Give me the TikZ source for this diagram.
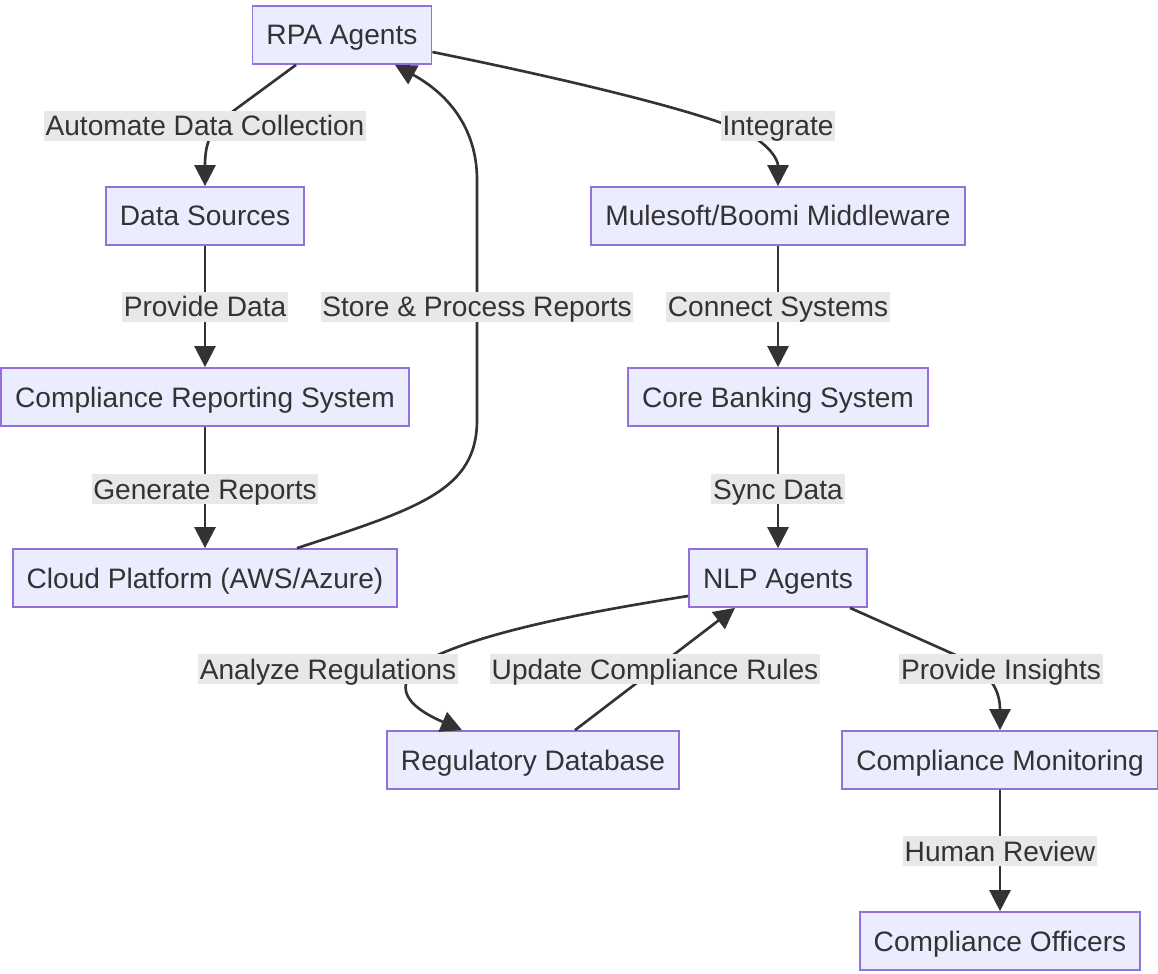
\documentclass[tikz,border=0pt]{standalone}
\usepackage{fontspec}
\setmainfont{Liberation Sans}
\usepackage{tikz}
\usetikzlibrary{arrows.meta,calc}
\definecolor{boxfill}{HTML}{ECECFF}
\definecolor{boxline}{HTML}{9370DB}
\definecolor{edgegray}{HTML}{333333}
\definecolor{lblbg}{HTML}{E8E8E8}

\begin{document}
\begin{tikzpicture}[x=0.02cm,y=-0.02cm,
    font=\fontsize{16}{19}\selectfont,
    box/.style={draw=boxline,fill=boxfill,line width=1pt,minimum height=1.16cm,inner xsep=0.28cm,
      text height=0.4cm,text depth=0pt,text=edgegray},
    elabel/.style={fill=lblbg,inner xsep=1pt,inner ysep=0pt,minimum height=0.6cm,
      text height=0.4cm,text depth=0pt,text=edgegray},
    arr/.style={draw=edgegray,line width=1.5pt,-{Triangle[length=0.42cm,width=0.42cm]}}]
    \useasboundingbox (0,0) rectangle (1158,973); % keeps the margins

    % left column
    \node[box] (rpa)   at (342,35)  {RPA Agents};
    \node[box] (ds)    at (205,216) {Data Sources};
    \node[box] (crs)   at (205,397) {Compliance Reporting System};
    \node[box] (cloud) at (205,578) {Cloud Platform (AWS/Azure)};
    % right column
    \node[box] (mule)  at (778,216) {Mulesoft/Boomi Middleware};
    \node[box] (core)  at (778,397) {Core Banking System};
    \node[box] (nlp)   at (778,578) {NLP Agents};
    \node[box] (regdb) at (533,760) {Regulatory Database};
    \node[box] (mon)   at (1000,760) {Compliance Monitoring};
    \node[box] (off)   at (1000,941) {Compliance Officers};

    % straight links
    \foreach \a/\b in {ds/crs,crs/cloud,mule/core,core/nlp,mon/off}{%
      \draw[arr] (\a) -- (\b);
    }
    % curved links
    \draw[arr] ([xshift=-0.92cm]rpa.south) -- (236,109)
        .. controls (212,127) and (205,140) .. (ds.north);
    \draw[arr] ([yshift=-0.34cm]rpa.east) .. controls (580,82) and (700,112) .. (745,132)
        .. controls (770,145) and (778,160) .. (mule.north);
    \draw[arr] ([xshift=1.84cm]cloud.north) .. controls (420,508) and (477,490) .. (477,420)
        -- (477,180) .. controls (477,130) and (450,95) .. ([xshift=1.06cm]rpa.south);
    \draw[arr] ([yshift=-0.36cm]nlp.west) .. controls (600,610) and (500,628) .. (440,654)
        .. controls (395,675) and (392,700) .. ([xshift=-1.42cm]regdb.north);
    \draw[arr] ([xshift=0.84cm]regdb.north) -- ([xshift=-0.86cm]nlp.south);
    \draw[arr] ([xshift=1.44cm]nlp.south) -- (960,657)
        .. controls (990,672) and (1000,690) .. (mon.north);

    % edge labels
    \node[elabel] (lAuto)  at (205,126)  {Automate Data Collection};
    \node[elabel] (lInt)   at (778,126)  {Integrate};
    \node[elabel] (lProv)  at (205,307)  {Provide Data};
    \node[elabel] (lStore) at (477,307)  {Store \& Process Reports};
    \node[elabel] (lConn)  at (778,307)  {Connect Systems};
    \node[elabel] (lGen)   at (205,489)  {Generate Reports};
    \node[elabel] (lSync)  at (778,489)  {Sync Data};
    \node[elabel] (lAna)   at (328,669)  {Analyze Regulations};
    \node[elabel] (lUpd)   at (655,669)  {Update Compliance Rules};
    \node[elabel] (lIns)   at (1001,669) {Provide Insights};
    \node[elabel] (lHum)   at (1000,851) {Human Review};
\end{tikzpicture}
\end{document}
